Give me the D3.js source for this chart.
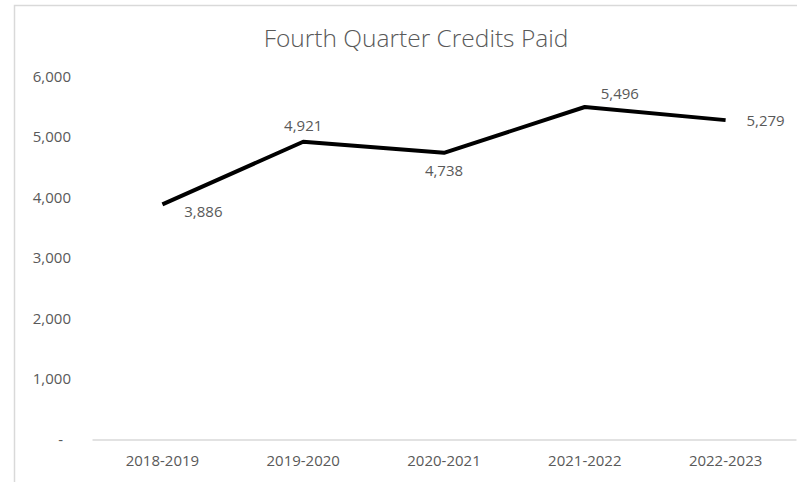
<!DOCTYPE html>
<html><head><meta charset="utf-8">
<script src="https://cdn.jsdelivr.net/npm/d3@7/dist/d3.min.js"></script>
<style>body{margin:0;background:#fff;} svg{display:block;}</style>
</head><body>
<script>
const categories = ["2018-2019","2019-2020","2020-2021","2021-2022","2022-2023"];
const values = [3886, 4921, 4738, 5496, 5279];
const yTicks = [0, 1000, 2000, 3000, 4000, 5000, 6000];
const labelPlacement = ["below-right","above","below","above-right","right"];
const title = "Fourth Quarter Credits Paid";

const W = 797, H = 482;
const svg = d3.select("body").append("svg").attr("width", W).attr("height", H);
const font = "'Open Sans', sans-serif";
const textColor = "#595959";

// frame
svg.append("path").attr("d", `M14.5,${H} V5.5 H${W}`).attr("fill","none")
  .attr("stroke","#d9d9d9").attr("stroke-width",1.5);

const x = d3.scaleBand().domain(categories).range([92, 796]);
const y = d3.scaleLinear().domain([0, 6000]).range([439.5, 76.5]);

svg.append("text").attr("x", 416).attr("y", 47).attr("text-anchor","middle")
  .attr("font-family", font).attr("font-size", 24.5).attr("fill", textColor)
  .attr("font-weight", 300).text(title);

// y axis
const fmt = d => d === 0 ? "-" : d3.format(",")(d);
const ya = svg.append("g").attr("transform","translate(71,0)")
  .call(d3.axisLeft(y).tickValues(yTicks).tickFormat(fmt).tickSize(0).tickPadding(0));
ya.select(".domain").remove();
ya.selectAll("text").attr("font-family", font).attr("font-size", 15).attr("fill", textColor)
  .attr("dx", d => d === 0 ? -8 : 0);

// x axis
const xa = svg.append("g").attr("transform",`translate(0,${y(0)})`)
  .call(d3.axisBottom(x).tickSize(0).tickPadding(16));
xa.select(".domain").attr("stroke","#d9d9d9").attr("stroke-width",1.5);
xa.selectAll("text").attr("font-family", font).attr("font-size", 15).attr("fill", textColor);

const cx = d => x(d) + x.bandwidth()/2;
const line = d3.line().x((d,i) => cx(categories[i])).y(d => y(d));
svg.append("path").datum(values).attr("d", line).attr("fill","none")
  .attr("stroke","#000").attr("stroke-width",4).attr("stroke-linejoin","round");

const off = {"below-right":[41,13], "above":[0,-11], "below":[0,23], "above-right":[35,-8], "right":[40,6]};
svg.selectAll(".lbl").data(values).enter().append("text")
  .attr("x",(d,i)=>cx(categories[i]) + off[labelPlacement[i]][0])
  .attr("y",(d,i)=>y(d) + off[labelPlacement[i]][1])
  .attr("text-anchor","middle").attr("font-family", font).attr("font-size", 15)
  .attr("fill", textColor).text(d => d3.format(",")(d));
</script>
</body></html>
